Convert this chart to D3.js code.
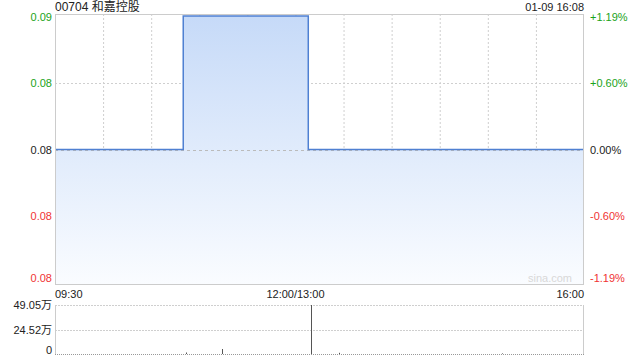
<!DOCTYPE html>
<html><head><meta charset="utf-8">
<script src="https://cdn.jsdelivr.net/npm/d3@7/dist/d3.min.js"></script>
<style>body{margin:0;background:#fff;}svg{display:block;font-family:Arial,"Liberation Sans","Noto Sans CJK SC",sans-serif;}</style>
</head><body><svg id="c" width="640" height="360"></svg>
<script>
const title = "00704 和嘉控股";
const stamp = "01-09 16:08";
const prevClose = 0.084;
const priceTimes = ["09:30","10:50","13:08","16:00"];
const prices = [0.084,0.085,0.084,0.084];
const leftTicks = ["0.09","0.08","0.08","0.08","0.08"];
const rightTicks = ["+1.19%","+0.60%","0.00%","-0.60%","-1.19%"];
const tickValues = [0.085,0.0845,0.084,0.0835,0.083];
const timeLabels = ["09:30","12:00/13:00","16:00"];
const volTimes = ["10:52","11:14","13:10","13:27","15:09"];
const volumes = [1.5,5.0,49.05,1.2,0.6];
const volTicks = [49.05,24.52,0];
const volTickLabels = ["49.05万","24.52万","0"];

const svg = d3.select("#c");
const L=55,R=584,T=14,B=284, VT=305, VB=354;
function idx(t){const [h,m]=t.split(":").map(Number);const v=h*60+m;return v<=720? v-570 : 150+(v-780);}
const x = d3.scaleLinear().domain([0,330]).range([L,R]);
const y = d3.scaleLinear().domain([0.083,0.085]).range([283,16]);
const yv = d3.scaleLinear().domain([0,49.05]).range([VB,VT]);

const defs = svg.append("defs");
const g = defs.append("linearGradient").attr("id","fg").attr("x1",0).attr("y1",0).attr("x2",0).attr("y2",1);
g.append("stop").attr("offset","0%").attr("stop-color","#c6daf8");
g.append("stop").attr("offset","100%").attr("stop-color","#fafcff");
defs.append("linearGradient").attr("id","fg2");

// grid
const grid = svg.append("g");
for(let k=1;k<11;k++){
  grid.append("line").attr("x1",x(k*30)+0.5).attr("x2",x(k*30)+0.5).attr("y1",T).attr("y2",B)
    .attr("stroke","#cfcfcf").attr("stroke-dasharray","2,2");
}
[0.0845,0.0835].forEach(v=>grid.append("line").attr("x1",L).attr("x2",R).attr("y1",Math.round(y(v))+0.5).attr("y2",Math.round(y(v))+0.5).attr("stroke","#cfcfcf").attr("stroke-dasharray","2,2"));

const data = priceTimes.map((t,i)=>({t:idx(t),p:prices[i]}));
const area = d3.area().curve(d3.curveStepAfter).x(d=>x(d.t)).y0(B).y1(d=>y(d.p));
svg.append("path").datum(data).attr("d",area).attr("fill","url(#fg)");
// prev close dashed line
svg.append("line").attr("x1",L).attr("x2",R).attr("y1",Math.round(y(prevClose))+0.5).attr("y2",Math.round(y(prevClose))+0.5).attr("stroke","#bbb").attr("stroke-dasharray","3,3");
const line = d3.line().curve(d3.curveStepAfter).x(d=>x(d.t)).y(d=>y(d.p));
svg.append("path").datum(data).attr("d",line).attr("fill","none").attr("stroke","#4f80d2").attr("stroke-width",1.5);

// border
svg.append("rect").attr("x",L+0.5).attr("y",T+0.5).attr("width",R-L-1).attr("height",B-T).attr("fill","none").attr("stroke","#cccccc");

// labels
svg.append("text").attr("x",L).attr("y",11).attr("font-size",12).attr("fill","#222").text(title);
svg.append("text").attr("x",R).attr("y",11).attr("font-size",11).attr("text-anchor","end").attr("fill","#222").text(stamp);
const cols = ["#1aa31a","#1aa31a","#222","#f03333","#f03333"];
tickValues.forEach((v,i)=>{
  let yy = y(v)+4; if(i===0) yy=y(v)+5; if(i===4) yy=y(v)-1;
  svg.append("text").attr("x",52).attr("y",yy).attr("font-size",11).attr("text-anchor","end").attr("fill",cols[i]).text(leftTicks[i]);
  svg.append("text").attr("x",590).attr("y",yy).attr("font-size",11).attr("fill",cols[i]).text(rightTicks[i]);
});
svg.append("text").attr("x",572).attr("y",282).attr("font-size",11).attr("text-anchor","end").attr("fill","#d8d8d8").text("sina.com");
const tl=[[0,"start"],[150,"middle"],[330,"end"]];
tl.forEach((d,i)=>svg.append("text").attr("x",x(d[0])).attr("y",298).attr("font-size",11).attr("text-anchor",d[1]).attr("fill","#222").text(timeLabels[i]));

// volume
volTicks.forEach((v,i)=>{
  const yy=Math.round(yv(v))+0.5;
  svg.append("line").attr("x1",L).attr("x2",R).attr("y1",yy).attr("y2",yy).attr("stroke", i===2?"#999":"#cfcfcf").attr("stroke-dasharray", i===2?"1,1":"2,1");
  svg.append("text").attr("x",52).attr("y",yv(v)+(i===2?0:4)).attr("font-size",11).attr("text-anchor","end").attr("fill","#222").text(volTickLabels[i]);
});
[L+0.5,R-0.5].forEach(xx=>svg.append("line").attr("x1",xx).attr("x2",xx).attr("y1",VT).attr("y2",VB).attr("stroke","#cccccc"));
volTimes.forEach((t,i)=>{
  const xx=Math.round(x(idx(t)))+0.5;
  svg.append("line").attr("x1",xx).attr("x2",xx).attr("y1",VB).attr("y2",yv(volumes[i])).attr("stroke","#555").attr("stroke-width",1);
});
</script></body></html>
